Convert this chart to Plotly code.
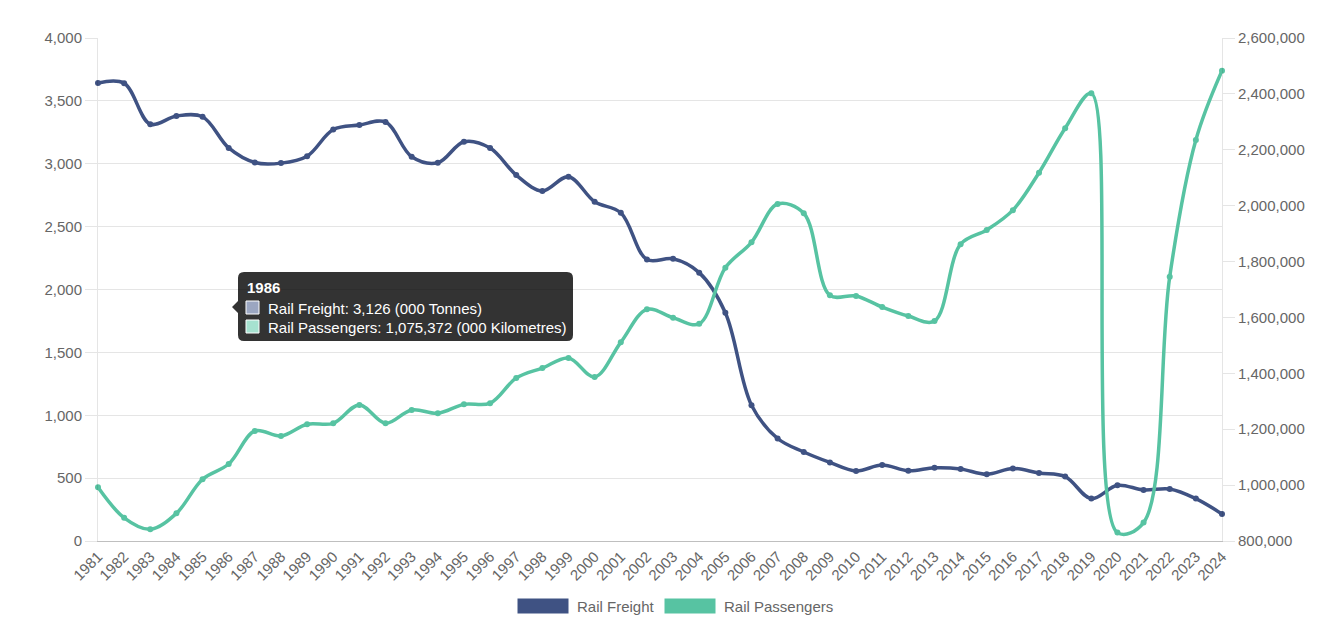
import plotly.graph_objects as go

# Rail traffic, annual
years = list(range(1981, 2025))
freight = [3642, 3640, 3315, 3380, 3374, 3126, 3010, 3005, 3060, 3272,
           3308, 3332, 3056, 3008, 3175, 3125, 2910, 2784, 2897, 2698,
           2610, 2238, 2244, 2134, 1815, 1080, 815, 708, 625, 557,
           604, 558, 582, 573, 531, 577, 540, 512, 337, 443,
           406, 414, 337, 215]
passengers = [992000, 883000, 842000, 899000, 1021000, 1075372, 1194000, 1176000, 1218000, 1221000,
              1287000, 1221000, 1269000, 1257000, 1289000, 1293000, 1383000, 1419000, 1455000, 1387000,
              1511000, 1629000, 1599000, 1577000, 1778000, 1869000, 2006000, 1973000, 1679000, 1677000,
              1637000, 1605000, 1587000, 1862000, 1913000, 1984000, 2118000, 2277000, 2402000, 830000,
              866000, 1746000, 2235000, 2483000]
series_names = ["Rail Freight", "Rail Passengers"]
units = ["(000 Tonnes)", "(000 Kilometres)"]
tooltip_year = 1986

FREIGHT_COLOR = "#3f5283"
PASS_COLOR = "#57c3a2"
FONT = "Liberation Sans, Arial, sans-serif"
GRID = "rgba(0,0,0,0.1)"

# page is shown with an 8px body margin, so the figure sits at (8, 8)
OFF = 8
W, H = 1341 - 2 * OFF, 637 - 2 * OFF
# plot area in page pixels
L, R, T, B = 98, 1222, 38, 541


def px(x):
    return (x - L) / (R - L)


def py(y):
    return (B - y) / (B - T)


fig = go.Figure()
fig.add_trace(go.Scatter(
    x=years, y=freight, name=series_names[0], mode="lines+markers",
    line=dict(color=FREIGHT_COLOR, width=3.5, shape="spline", smoothing=1),
    marker=dict(size=6, color=FREIGHT_COLOR), cliponaxis=False, showlegend=False,
))
fig.add_trace(go.Scatter(
    x=years, y=passengers, name=series_names[1], mode="lines+markers", yaxis="y2",
    line=dict(color=PASS_COLOR, width=3.5, shape="spline", smoothing=1),
    marker=dict(size=6, color=PASS_COLOR), cliponaxis=False, showlegend=False,
))

shapes = []
annotations = []

# static tooltip for the highlighted year
i = years.index(tooltip_year)
shapes.append(dict(
    type="path", xref="paper", yref="paper", line=dict(width=0), fillcolor="rgba(0,0,0,0.8)",
    path=(f"M {px(244)},{py(272)} L {px(567)},{py(272)} Q {px(573)},{py(272)} {px(573)},{py(278)} "
          f"L {px(573)},{py(335)} Q {px(573)},{py(341)} {px(567)},{py(341)} "
          f"L {px(244)},{py(341)} Q {px(238)},{py(341)} {px(238)},{py(335)} "
          f"L {px(238)},{py(313)} L {px(232)},{py(307)} L {px(238)},{py(301)} "
          f"L {px(238)},{py(278)} Q {px(238)},{py(272)} {px(244)},{py(272)} Z"),
))
for fill, y0 in [("#9ba6c1", 301), ("#a6e2d0", 320)]:
    shapes.append(dict(type="rect", xref="paper", yref="paper",
                       x0=px(246), x1=px(259), y0=py(y0), y1=py(y0 + 13),
                       fillcolor=fill, line=dict(color="#ffffff", width=1)))
annotations.append(dict(xref="paper", yref="paper", x=px(245), y=py(287), xanchor="left",
                        yanchor="middle", showarrow=False, text=f"<b>{tooltip_year}</b>",
                        font=dict(family=FONT, size=15, color="#ffffff")))
annotations.append(dict(xref="paper", yref="paper", x=px(266), y=py(308), xanchor="left",
                        yanchor="middle", showarrow=False,
                        text=f"{series_names[0]}: {freight[i]:,} {units[0]}",
                        font=dict(family=FONT, size=15, color="#ffffff")))
annotations.append(dict(xref="paper", yref="paper", x=px(266), y=py(327), xanchor="left",
                        yanchor="middle", showarrow=False,
                        text=f"{series_names[1]}: {passengers[i]:,} {units[1]}",
                        font=dict(family=FONT, size=15, color="#ffffff")))

# legend drawn as boxes, like the original
for name, color, bx in [(series_names[0], FREIGHT_COLOR, 517), (series_names[1], PASS_COLOR, 664)]:
    shapes.append(dict(type="rect", xref="paper", yref="paper",
                       x0=px(bx), x1=px(bx + 52), y0=py(598), y1=py(614),
                       fillcolor=color, line=dict(color="#ffffff", width=1)))
    annotations.append(dict(xref="paper", yref="paper", x=px(bx + 58), y=py(606), xanchor="left",
                            yanchor="middle", showarrow=False, text=name,
                            font=dict(family=FONT, size=15, color="#666666")))

fig.update_layout(
    width=W, height=H,
    margin=dict(l=L - OFF, r=W + OFF - R, t=T - OFF, b=H + OFF - B),
    paper_bgcolor="white", plot_bgcolor="white",
    font=dict(family=FONT, size=15, color="#666666"),
    shapes=shapes, annotations=annotations,
    xaxis=dict(
        range=[years[0], years[-1]], tickvals=years, tickangle=-45,
        showgrid=False, zeroline=False, showline=True, linecolor="rgba(0,0,0,0.25)",
        ticks="", tickfont=dict(size=15, color="#666666"),
    ),
    yaxis=dict(
        range=[0, 4000], dtick=500, tickformat=",", showgrid=True, gridcolor=GRID,
        zeroline=False, showline=True, linecolor=GRID, ticks="outside", ticklen=12,
        tickcolor=GRID, tickfont=dict(size=15, color="#666666"),
    ),
    yaxis2=dict(
        range=[800000, 2600000], dtick=200000, tickformat=",", overlaying="y", side="right",
        showgrid=False, zeroline=False, showline=True, linecolor=GRID, ticks="outside",
        ticklen=12, tickcolor=GRID, tickfont=dict(size=15, color="#666666"),
    ),
    hovermode="x unified",
)

fig.write_html("out.html")
